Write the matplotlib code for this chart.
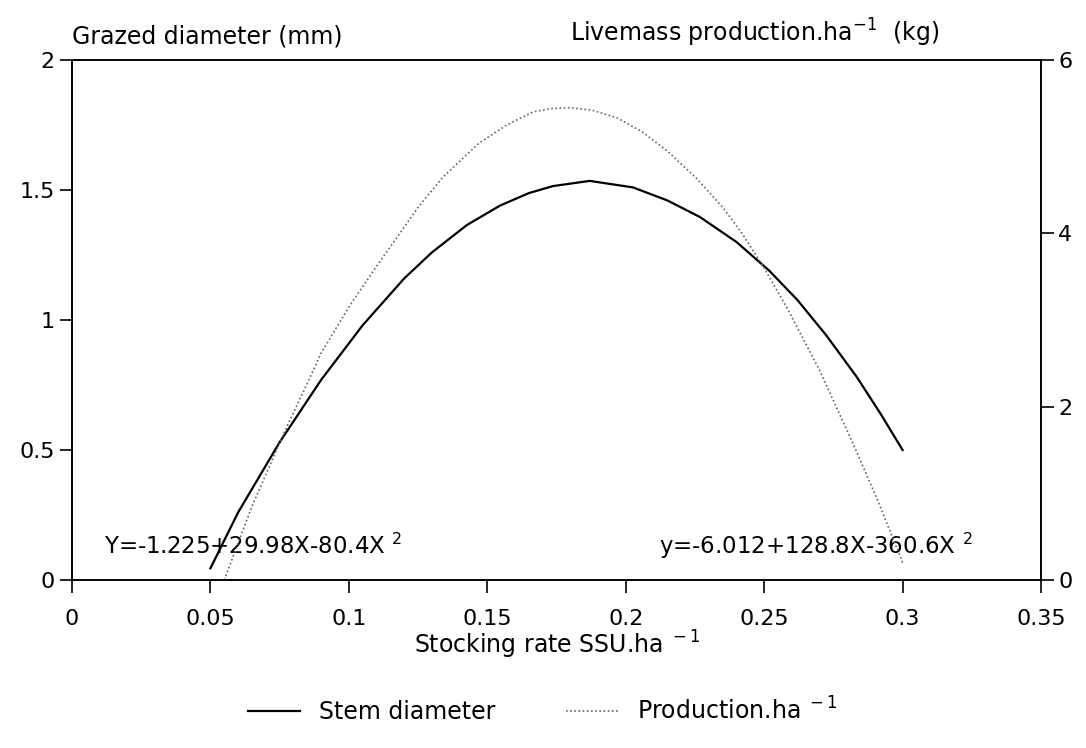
import matplotlib
matplotlib.use("Agg")
import matplotlib.pyplot as plt

# stem diameter (left axis, mm)
stem_x = [0.05, 0.06, 0.075, 0.09, 0.105, 0.12, 0.13, 0.1426, 0.1546, 0.165,
          0.1737, 0.187, 0.2026, 0.215, 0.2268, 0.24, 0.2518, 0.262, 0.2725,
          0.2835, 0.292, 0.30]
stem_y = [0.045, 0.26, 0.53, 0.77, 0.98, 1.16, 1.26, 1.365, 1.44, 1.488,
          1.515, 1.535, 1.51, 1.46, 1.396, 1.30, 1.19, 1.077, 0.94,
          0.78, 0.64, 0.50]

# livemass production (right axis, kg/ha)
prod_x = [0.055, 0.065, 0.0776, 0.085, 0.09, 0.1004, 0.11, 0.1184, 0.125, 0.134,
          0.147, 0.157, 0.1665, 0.173, 0.18, 0.188, 0.197, 0.206, 0.215, 0.226,
          0.235, 0.242, 0.25, 0.2586, 0.27, 0.282, 0.291, 0.30]
prod_y = [0.0, 0.85, 1.77, 2.27, 2.62, 3.17, 3.62, 4.0, 4.3, 4.65,
          5.04, 5.25, 5.40, 5.44, 5.45, 5.42, 5.33, 5.17, 4.95, 4.62,
          4.3, 4.0, 3.6, 3.12, 2.42, 1.58, 0.92, 0.2]

x_ticks = [0, 0.05, 0.1, 0.15, 0.2, 0.25, 0.3, 0.35]
x_labels = ["0", "0.05", "0.1", "0.15", "0.2", "0.25", "0.3", "0.35"]
left_ticks = [0, 0.5, 1, 1.5, 2]
left_labels = ["0", "0.5", "1", "1.5", "2"]
right_ticks = [0, 2, 4, 6]

plt.rcParams['font.family'] = ['DejaVu Sans']

fig = plt.figure(figsize=(10.86, 7.48), dpi=100)
ax = fig.add_axes([0.0663, 0.2246, 0.8923, 0.6952])
ax2 = ax.twinx()

l1, = ax.plot(stem_x, stem_y, color="black", lw=1.6, label="Stem diameter")
l2, = ax2.plot(prod_x, prod_y, color="0.4", lw=1.2, linestyle=(0, (1, 1.5)),
               label="Production.ha$^{\\ -1}$")

ax.set_xlim(0, 0.35)
ax.set_ylim(0, 2)
ax2.set_ylim(0, 6)
ax.set_xticks(x_ticks)
ax.set_xticklabels(x_labels)
ax.set_yticks(left_ticks)
ax.set_yticklabels(left_labels)
ax2.set_yticks(right_ticks)

for a in (ax, ax2):
    a.tick_params(direction="out", length=9, width=1.2, labelsize=16)
    for s in a.spines.values():
        s.set_linewidth(1.2)
ax.tick_params(axis="x", pad=12)

ax.set_xlabel("Stocking rate SSU.ha$^{\\ -1}$", fontsize=17, labelpad=0)

fig.text(0.0663, 0.935, "Grazed diameter (mm)", fontsize=17, ha="left", va="bottom")
fig.text(0.865, 0.935, "Livemass production.ha$^{-1}$  (kg)", fontsize=17,
         ha="right", va="bottom")

ax.text(0.0115, 0.1, "Y=-1.225+29.98X-80.4X $^{2}$", fontsize=16.5)
ax.text(0.212, 0.1, "y=-6.012+128.8X-360.6X $^{2}$", fontsize=16.5)

fig.legend(handles=[l1, l2], loc="center", bbox_to_anchor=(0.5, 0.05), ncol=2,
           frameon=False, fontsize=17, handlelength=2.2, columnspacing=3)

fig.savefig("out.png", dpi=100)
